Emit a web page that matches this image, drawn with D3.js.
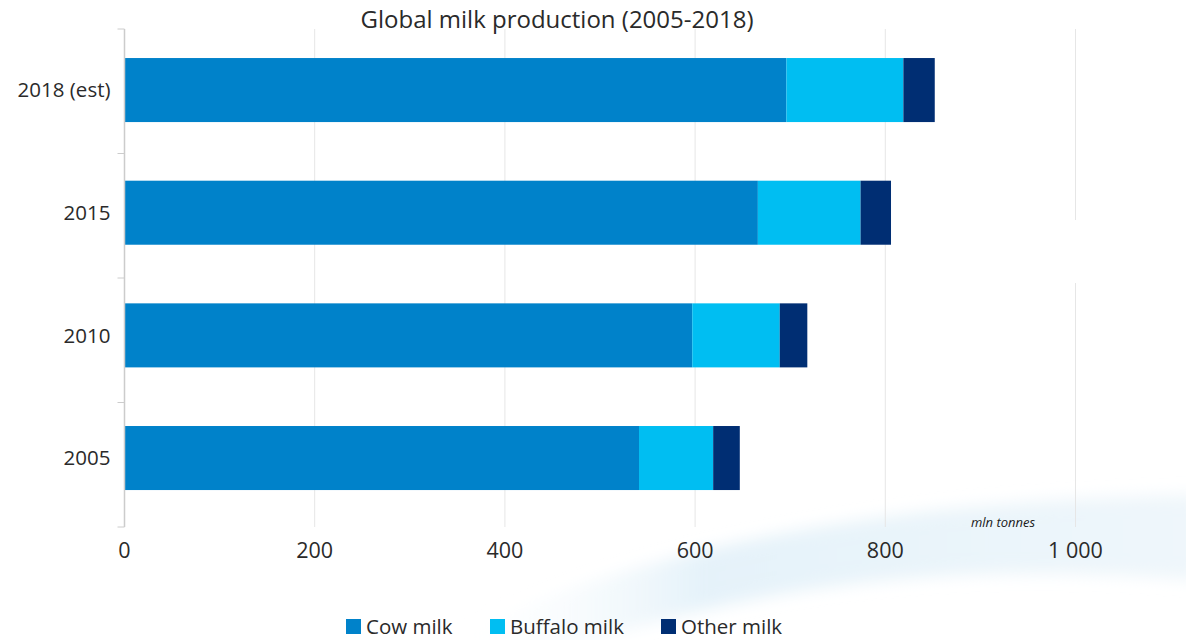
<!DOCTYPE html>
<html><head><meta charset="utf-8">
<script src="https://cdn.jsdelivr.net/npm/d3@7"></script>
<style>body{margin:0;background:#fff}svg{display:block}</style>
</head><body>
<svg id="c" width="1186" height="640"></svg>
<script>
const categories = ["2018 (est)", "2015", "2010", "2005"];
const seriesNames = ["Cow milk", "Buffalo milk", "Other milk"];
const cowMilk = [696, 666, 597, 541];
const buffaloMilk = [123, 108, 92, 78];
const otherMilk = [33, 32, 29, 28];
const xTicks = [0, 200, 400, 600, 800, 1000];
const colors = ["#0082CA", "#00BEF2", "#002E73"];

const rows = categories.map((c, i) => ({cat: c, "Cow milk": cowMilk[i], "Buffalo milk": buffaloMilk[i], "Other milk": otherMilk[i]}));
const stack = d3.stack().keys(seriesNames)(rows);

const svg = d3.select("#c");
const font = "'Open Sans', 'DejaVu Sans', sans-serif";

// decorative swoosh
const defs = svg.append("defs");
const g1 = defs.append("linearGradient").attr("id","sw").attr("x1","0").attr("y1","0").attr("x2","1").attr("y2","0");
g1.append("stop").attr("offset","0").attr("stop-color","#ffffff").attr("stop-opacity",0);
g1.append("stop").attr("offset","0.35").attr("stop-color","#e3f1f9").attr("stop-opacity",0.9);
g1.append("stop").attr("offset","1").attr("stop-color","#eef6fb").attr("stop-opacity",0.9);
defs.append("filter").attr("id","bl").attr("x","-10%").attr("y","-30%").attr("width","120%").attr("height","160%")
  .append("feGaussianBlur").attr("stdDeviation", 8);
svg.append("path")
  .attr("d","M430,650 C600,560 850,500 1200,495 L1200,580 C1000,565 800,570 560,650 Z")
  .attr("fill","url(#sw)").attr("filter","url(#bl)");

const x = d3.scaleLinear().domain([0, 1000]).range([124.5, 1075.5]);
const axisTop = 29, axisBottom = 527;
const y = d3.scaleBand().domain(categories).range([axisTop, axisBottom])
  .paddingInner(0.478).paddingOuter(0.269).align(0.44);
const yEdge = d3.scaleLinear().domain([0, categories.length]).range([axisTop, axisBottom]);

// gridlines
svg.append("g").selectAll("line").data(xTicks.slice(1)).join("line")
  .attr("x1", d => x(d)).attr("x2", d => x(d)).attr("y1", axisTop).attr("y2", axisBottom)
  .attr("stroke", "#e6e6e6").attr("stroke-width", 1);
// small gap in last gridline as in reference
svg.append("rect").attr("x", x(1000) - 3).attr("width", 6).attr("y", 220).attr("height", 63).attr("fill", "#fff");

// bars
svg.append("g").selectAll("g").data(stack).join("g")
  .attr("fill", (d, i) => colors[i])
  .selectAll("rect").data(d => d).join("rect")
  .attr("x", d => x(d[0])).attr("width", d => x(d[1]) - x(d[0]))
  .attr("y", d => y(d.data.cat)).attr("height", y.bandwidth());

// left axis
const ax = svg.append("g").attr("transform", "translate(124.5,0)");
ax.append("line").attr("y1", axisTop).attr("y2", axisBottom).attr("stroke", "#cccccc").attr("stroke-width", 1.5);
ax.selectAll(".tk").data(d3.range(categories.length + 1)).join("line").attr("class", "tk")
  .attr("x1", -7).attr("x2", 0).attr("y1", d => yEdge(d)).attr("y2", d => yEdge(d))
  .attr("stroke", "#cccccc").attr("stroke-width", 1);
ax.selectAll("text").data(categories).join("text")
  .attr("x", -14).attr("y", d => y(d) + y.bandwidth() / 2).attr("dy", "0.35em")
  .attr("text-anchor", "end").attr("font-family", font).attr("font-size", 20.5).attr("fill", "#2a2a2a")
  .text(d => d);

// x tick labels
const fmt = d => d >= 1000 ? d3.format(",")(d).replace(",", " ") : String(d);
svg.append("g").selectAll("text").data(xTicks).join("text")
  .attr("x", d => x(d)).attr("y", 558).attr("text-anchor", "middle")
  .attr("font-family", font).attr("font-size", 21.5).attr("fill", "#2a2a2a")
  .text(fmt);

svg.append("text").attr("x", 1003).attr("y", 527).attr("text-anchor", "middle")
  .attr("font-family", font).attr("font-size", 13).attr("font-style", "italic").attr("fill", "#1a1a1a")
  .text("mln tonnes");

// title
svg.append("text").attr("x", 557).attr("y", 28).attr("text-anchor", "middle")
  .attr("font-family", font).attr("font-size", 24).attr("fill", "#2a2a2a")
  .text("Global milk production (2005-2018)");

// legend
const legX = [346, 490, 661];
const leg = svg.append("g").selectAll("g").data(seriesNames).join("g")
  .attr("transform", (d, i) => `translate(${legX[i]},619)`);
leg.append("rect").attr("width", 15).attr("height", 15).attr("fill", (d, i) => colors[i]);
leg.append("text").attr("x", 20).attr("y", 8).attr("dy", "0.35em")
  .attr("font-family", font).attr("font-size", 20.5).attr("fill", "#2a2a2a").text(d => d);
</script>
</body></html>
